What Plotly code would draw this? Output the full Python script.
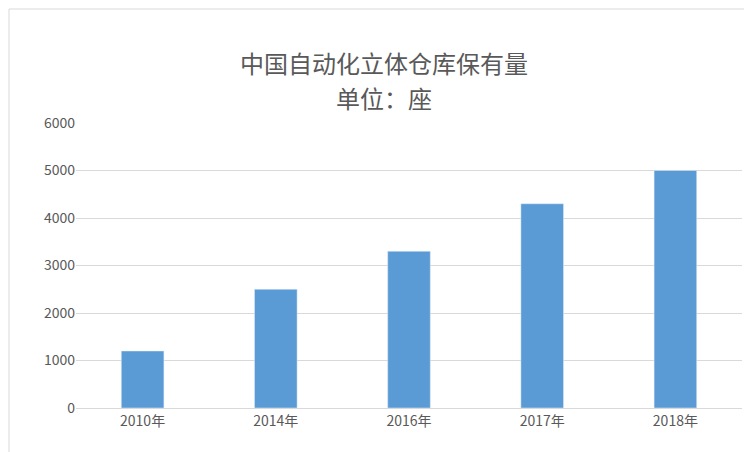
import plotly.graph_objects as go

years = ["2010年", "2014年", "2016年", "2017年", "2018年"]
counts = [1200, 2500, 3300, 4300, 5000]
y_ticks = [0, 1000, 2000, 3000, 4000, 5000, 6000]

W, H = 752, 452
L, R, T, B = 68, 18, 115, 52
pw, ph = W - L - R, H - T - B

fig = go.Figure(go.Bar(x=years, y=counts, marker_color="#5b9bd5"))

fig.update_layout(
    width=W, height=H,
    margin=dict(l=L, r=R, t=T, b=B, autoexpand=False),
    paper_bgcolor="white", plot_bgcolor="white",
    bargap=0.68,
    font=dict(family="Noto Sans CJK SC, Liberation Sans", color="#595959", size=14),
    xaxis=dict(showline=True, linecolor="#d9d9d9", ticks="", automargin=False),
    yaxis=dict(range=[0, 6000], tickvals=y_ticks, gridcolor="#d9d9d9",
               zeroline=False, showline=False, ticks="", automargin=False),
    showlegend=False,
    annotations=[
        dict(text="中国自动化立体仓库保有量", xref="paper", yref="paper",
             x=(W / 2 - L) / pw, y=1 + (T - 35) / ph, showarrow=False,
             font=dict(size=24, color="#595959")),
        dict(text="单位：座", xref="paper", yref="paper",
             x=(W / 2 - L) / pw, y=1 + (T - 70) / ph, showarrow=False,
             font=dict(size=24, color="#595959")),
    ],
    shapes=[dict(type="rect", xref="paper", yref="paper",
                 x0=(-L + 1) / pw, x1=1 + (R - 1) / pw,
                 y0=(-B + 1) / ph, y1=1 + (T - 1) / ph,
                 line=dict(color="#d9d9d9", width=1))],
)

fig.write_html("out.html")
